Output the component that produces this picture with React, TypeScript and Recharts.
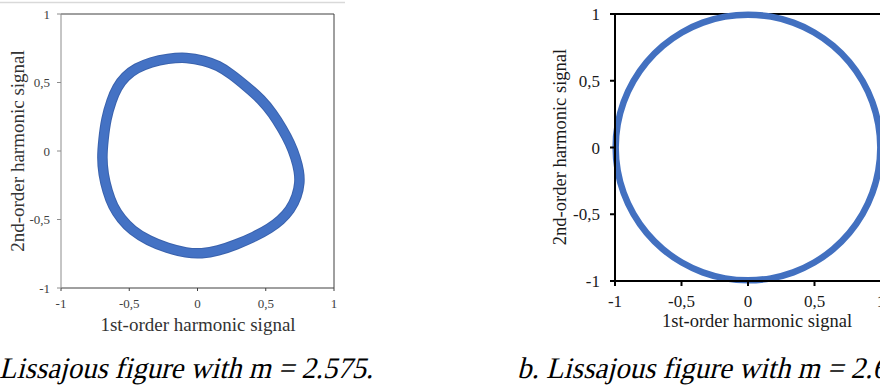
import { LineChart, Line, XAxis, YAxis, ReferenceLine } from 'recharts'

const TICKS = [-1, -0.5, 0, 0.5, 1]
const SERIF = '"Liberation Serif", "Times New Roman", serif'

const aX = [
  -0.08, 0.05, 0.15, 0.25, 0.36, 0.47, 0.55, 0.62, 0.68, 0.72, 0.745, 0.75, 0.73, 0.68,
  0.61, 0.53, 0.42, 0.28, 0.15, 0.03, -0.08, -0.22, -0.36, -0.48, -0.56, -0.62, -0.66,
  -0.69, -0.70, -0.69, -0.67, -0.63, -0.59, -0.53, -0.45, -0.34, -0.22,
]
const aY = [
  0.685, 0.66, 0.625, 0.56, 0.47, 0.375, 0.275, 0.165, 0.055, -0.05, -0.15, -0.23, -0.33, -0.43,
  -0.505, -0.565, -0.625, -0.685, -0.73, -0.75, -0.745, -0.71, -0.655, -0.58, -0.495, -0.405, -0.295,
  -0.17, -0.05, 0.08, 0.235, 0.37, 0.465, 0.545, 0.605, 0.65, 0.675,
]

// b. m = 2.6..., near-perfect circle
const bX = [
  1, 0.985, 0.94, 0.866, 0.766, 0.643, 0.5, 0.342, 0.174, 0, -0.174, -0.342, -0.5, -0.643,
  -0.766, -0.866, -0.94, -0.985, -1, -0.985, -0.94, -0.866, -0.766, -0.643, -0.5, -0.342,
  -0.174, 0, 0.174, 0.342, 0.5, 0.643, 0.766, 0.866, 0.94, 0.985,
]
const bY = [
  0, 0.174, 0.342, 0.5, 0.643, 0.766, 0.866, 0.94, 0.985, 1, 0.985, 0.94, 0.866, 0.766,
  0.643, 0.5, 0.342, 0.174, 0, -0.174, -0.342, -0.5, -0.643, -0.766, -0.866, -0.94,
  -0.985, -1, -0.985, -0.94, -0.866, -0.766, -0.643, -0.5, -0.342, -0.174,
]

const X_TITLE = '1st-order harmonic signal'
const Y_TITLE = '2nd-order harmonic signal'
const CAPTION_A = 'a. Lissajous figure with m = 2.575.'
const CAPTION_B = 'b. Lissajous figure with m = 2.6.'

const fmt = (v: number) => String(v).replace('.', ',')

const dataA = aX.map((x, i) => ({ x, y: aY[i] }))
const dataB = bX.map((x, i) => ({ x, y: bY[i] }))

function PanelA() {
  return (
    <LineChart width={344} height={340} data={dataA} margin={{ top: 14, right: 10, left: 0, bottom: 0 }}>
      <XAxis
        type="number" dataKey="x" domain={[-1, 1]} ticks={TICKS} interval={0} height={52}
        tickFormatter={fmt} tickSize={3} tickMargin={8}
        axisLine={{ stroke: '#404040' }} tickLine={{ stroke: '#404040' }}
        tick={{ fontSize: 13, fill: '#404040', fontFamily: SERIF }}
      />
      <YAxis
        type="number" dataKey="y" domain={[-1, 1]} ticks={TICKS} interval={0} width={61}
        tickFormatter={fmt} tickSize={4} tickMargin={7}
        axisLine={{ stroke: '#8c8c8c' }} tickLine={{ stroke: '#8c8c8c' }}
        tick={{ fontSize: 13, fill: '#404040', fontFamily: SERIF }}
      />
      <ReferenceLine y={1} stroke="#404040" />
      <ReferenceLine x={1} stroke="#404040" />
      <Line dataKey="y" type="basisClosed" stroke="#3a62ad" strokeWidth={10.5} dot={false} isAnimationActive={false} />
      <Line dataKey="y" type="basisClosed" stroke="#4472c4" strokeWidth={8.5} dot={false} isAnimationActive={false} />
    </LineChart>
  )
}

function PanelB() {
  return (
    <LineChart width={361} height={340} data={dataB} margin={{ top: 14, right: 20, left: 0, bottom: 0 }}>
      <XAxis
        type="number" dataKey="x" domain={[-1, 1]} ticks={TICKS} interval={0} height={59}
        tickFormatter={fmt} tickSize={5} tickMargin={9}
        axisLine={{ stroke: '#000', strokeWidth: 2 }} tickLine={{ stroke: '#000', strokeWidth: 2 }}
        tick={{ fontSize: 17, fill: '#1a1a1a', fontFamily: SERIF }}
      />
      <YAxis
        type="number" dataKey="y" domain={[-1, 1]} ticks={TICKS} interval={0} width={75}
        tickFormatter={fmt} tickSize={5} tickMargin={10}
        axisLine={{ stroke: '#000', strokeWidth: 2 }} tickLine={{ stroke: '#000', strokeWidth: 2 }}
        tick={{ fontSize: 17, fill: '#1a1a1a', fontFamily: SERIF }}
      />
      <ReferenceLine y={1} stroke="#000" strokeWidth={2} />
      <ReferenceLine x={1} stroke="#000" strokeWidth={2} />
      <Line dataKey="y" type="basisClosed" stroke="#4270c0" strokeWidth={6.5} dot={false} isAnimationActive={false} />
    </LineChart>
  )
}

export default function App() {
  return (
    <div style={{ position: 'absolute', left: 0, top: 0, width: 880, height: 385, overflow: 'hidden', background: '#fff' }}>
      <div style={{ position: 'absolute', left: 0, top: 0 }}>
        <PanelA />
      </div>
      <div style={{ position: 'absolute', left: 540, top: 0 }}>
        <PanelB />
      </div>
      <svg width={880} height={385} style={{ position: 'absolute', left: 0, top: 0, pointerEvents: 'none' }}>
        <line x1={0} y1={2.5} x2={345} y2={2.5} stroke="#d9d9d9" strokeWidth={1.5} />
        <g fontFamily={SERIF} textAnchor="middle">
          <text x={198} y={331} fontSize={19} fill="#333">{X_TITLE}</text>
          <text transform="translate(24,151) rotate(-90)" fontSize={19} fill="#333">{Y_TITLE}</text>
          <text x={757} y={327} fontSize={18.5} fill="#1a1a1a">{X_TITLE}</text>
          <text transform="translate(566,147) rotate(-90)" fontSize={18.5} fill="#1a1a1a">{Y_TITLE}</text>
        </g>
        {/* captions: upright serif slanted by hand */}
        <g style={{ fontFamily: SERIF }} fontSize={30} fill="#000">
          <text transform="translate(-28,378) skewX(-14)" textLength={401} lengthAdjust="spacingAndGlyphs">{CAPTION_A}</text>
          <text transform="translate(517,378) skewX(-14)" textLength={377} lengthAdjust="spacingAndGlyphs">{CAPTION_B}</text>
        </g>
      </svg>
    </div>
  )
}
